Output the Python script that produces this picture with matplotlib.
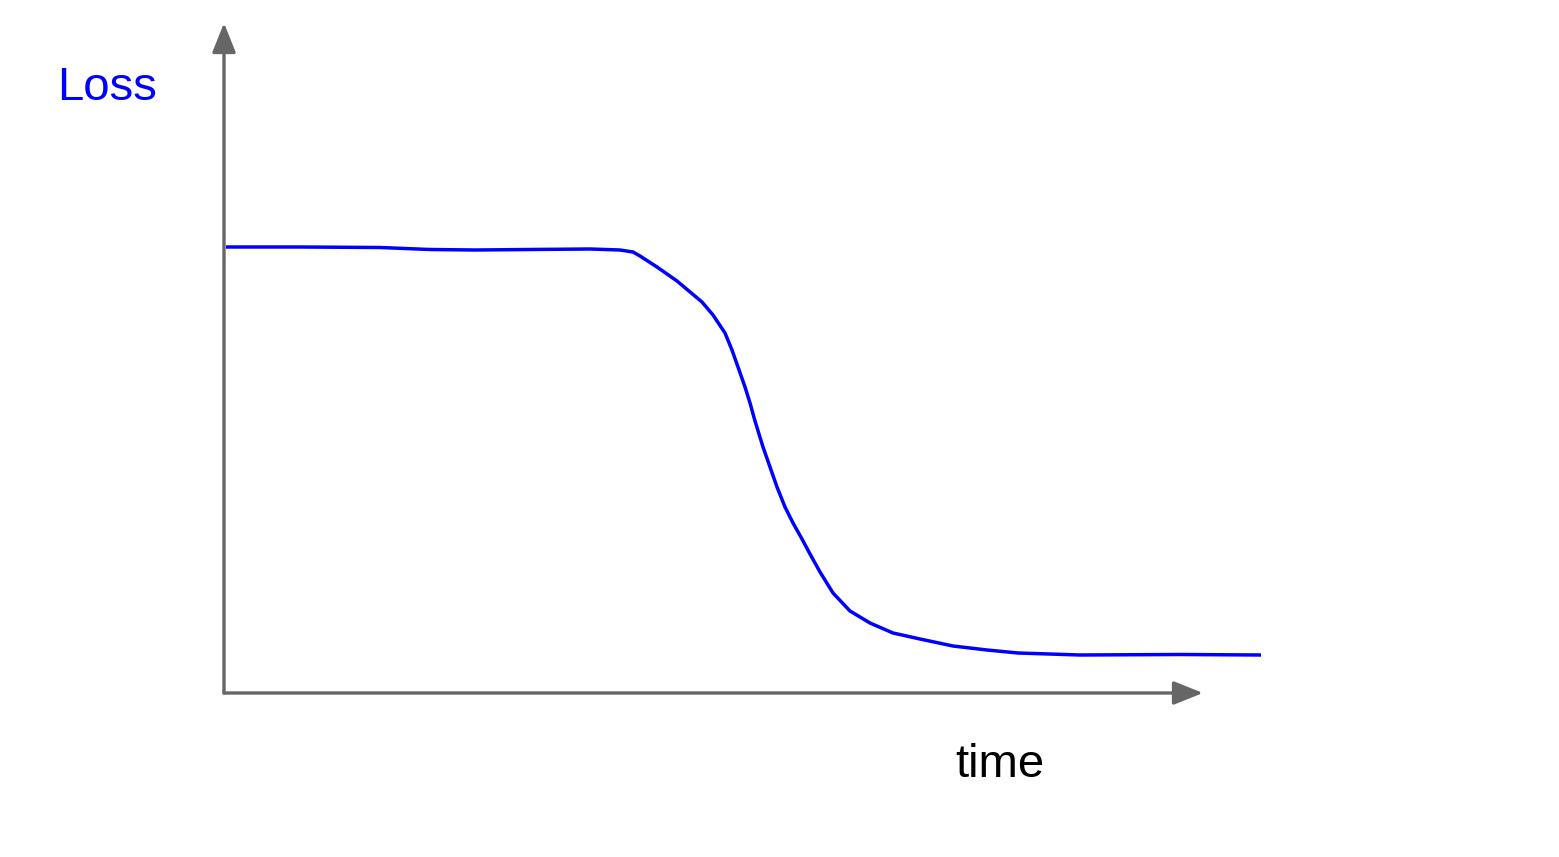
import matplotlib
matplotlib.use("Agg")
import matplotlib.pyplot as plt

# schematic loss curve, units ~ 100 px of the original sketch
time = [0.02, 0.76, 1.56, 2.06, 2.51, 3.06, 3.66, 3.96, 4.09, 4.16, 4.33,
        4.53, 4.78, 4.89, 5.01, 5.08, 5.14, 5.21, 5.26, 5.31, 5.39, 5.46,
        5.53, 5.61, 5.69, 5.78, 5.86, 5.96, 6.09, 6.26, 6.46, 6.69, 6.96,
        7.29, 7.63, 7.94, 8.56, 9.56, 10.37]
loss = [4.46, 4.46, 4.455, 4.435, 4.43, 4.435, 4.44, 4.43, 4.41, 4.37, 4.26,
        4.12, 3.91, 3.78, 3.60, 3.43, 3.26, 3.06, 2.90, 2.72, 2.46, 2.26,
        2.06, 1.86, 1.70, 1.54, 1.39, 1.21, 1.00, 0.82, 0.70, 0.60, 0.54,
        0.47, 0.43, 0.40, 0.38, 0.385, 0.38]
x_axis_end = 9.79
y_axis_end = 6.70

plt.rcParams["font.family"] = ["Liberation Sans", "DejaVu Sans"]

W, H = 1559, 857
fig = plt.figure(figsize=(W / 100, H / 100), dpi=100)
ax = fig.add_axes([224 / W, (857 - 693) / H, (1262 - 224) / W, (693 - 25) / H])
ax.set_xlim(0, 10.38)
ax.set_ylim(0, 6.68)
ax.axis("off")

axis_col = "#666666"
arrow = dict(arrowstyle="-|>,head_length=0.9,head_width=0.36",
             mutation_scale=20, lw=2.4, color=axis_col,
             shrinkA=0, shrinkB=0)
ax.annotate("", xy=(x_axis_end, 0), xytext=(0, 0), arrowprops=arrow,
            annotation_clip=False)
ax.annotate("", xy=(0, y_axis_end), xytext=(0, 0), arrowprops=arrow,
            annotation_clip=False)

ax.plot(time, loss, color="#0000ff", lw=2.5, solid_capstyle="butt",
        solid_joinstyle="round")

fig.text(57 / W, 1 - 100 / H, "Loss", color="#0000ff", fontsize=34,
         ha="left", va="baseline")
fig.text(955 / W, 1 - 777 / H, "time", color="black", fontsize=34,
         ha="left", va="baseline")

fig.savefig("out.png", dpi=100, facecolor="white")
